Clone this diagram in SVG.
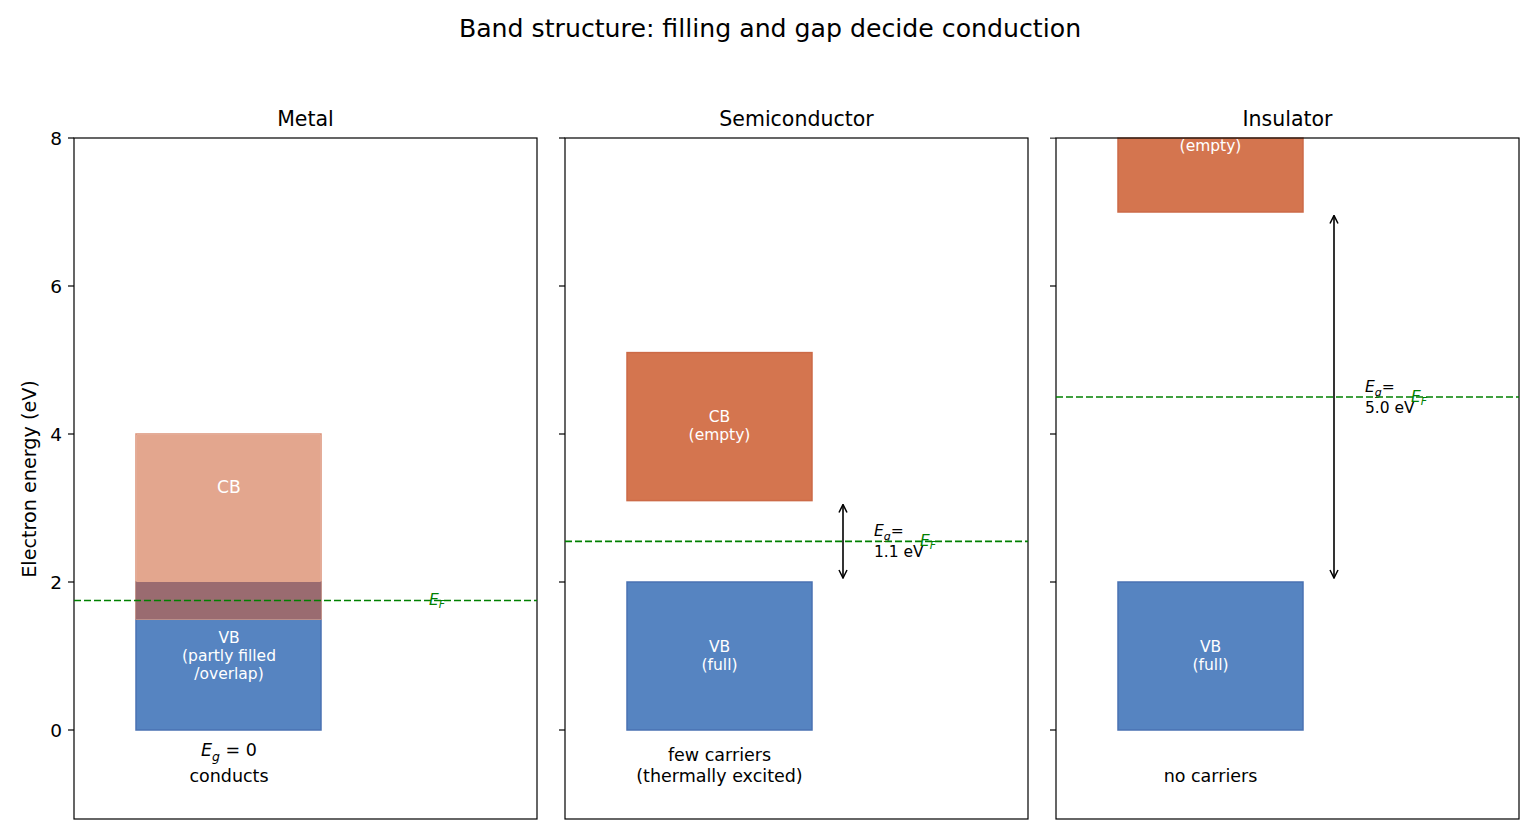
<svg xmlns="http://www.w3.org/2000/svg" width="1540" height="840" viewBox="0 0 1540 840">
<defs>
<style>
text{font-family:"DejaVu Sans","Liberation Sans",sans-serif;fill:#000}
.title{font-size:25.2px;text-anchor:middle}
.ptitle{font-size:20.5px;text-anchor:middle}
.tick{font-size:18.5px;text-anchor:end}
.ylab{font-size:19.2px;text-anchor:middle}
.note{font-size:17.5px;text-anchor:middle}
.band{font-size:15.5px;text-anchor:middle;fill:#ffffff}
.bandl{font-size:17.2px}
.eg{font-size:15.5px}
.ef{font-size:15.5px;fill:#008000;font-style:italic}
.frame{fill:none;stroke:#000;stroke-width:1.2}
.tk{stroke:#000;stroke-width:1.2}
.fermi{stroke:#008000;stroke-width:1.7;stroke-dasharray:7,3;fill:none}
.cb{fill:#d4754f;stroke:#cc6a47;stroke-width:1.5}
.vb{fill:#5684c1;stroke:#4a72b2;stroke-width:1.5}
.arr{stroke:#000;stroke-width:1.6;fill:none}
</style>
<marker id="ah" viewBox="0 0 10 10" refX="9" refY="5" markerWidth="10" markerHeight="10" markerUnits="userSpaceOnUse" orient="auto-start-reverse">
<path d="M1,1 L9,5 L1,9" fill="none" stroke="#000" stroke-width="1.5"/>
</marker>
</defs>
<rect width="1540" height="840" fill="#ffffff"/>
<text class="title" x="770" y="37">Band structure: filling and gap decide conduction</text>

<g id="axes-metal">
<text class="ptitle" x="305.5" y="126">Metal</text>
<text class="ylab" transform="translate(36,479) rotate(-90)">Electron energy (eV)</text>
<g class="tk"><line x1="68" y1="138" x2="74" y2="138"/><line x1="68" y1="286" x2="74" y2="286"/><line x1="68" y1="434" x2="74" y2="434"/><line x1="68" y1="582" x2="74" y2="582"/><line x1="68" y1="730" x2="74" y2="730"/></g>
<text class="tick" x="62" y="144.5">8</text>
<text class="tick" x="62" y="292.5">6</text>
<text class="tick" x="62" y="440.5">4</text>
<text class="tick" x="62" y="588.5">2</text>
<text class="tick" x="62" y="736.5">0</text>
</g>
<g id="metal-vb">
<rect x="136" y="582" width="185" height="148" class="vb"/>
</g>
<g id="metal-cb"><rect x="136" y="434" width="185" height="185" fill="none" stroke="#dc9278" stroke-width="1.5"/><rect x="136.75" y="434.75" width="183.5" height="147.25" fill="#e3a68e"/>
<rect x="136" y="582" width="185" height="37" fill="#9a6b70"/>
<text class="band bandl" x="229" y="493">CB</text></g>
<g id="metal-vb-label"><text class="band" x="229" y="643">VB</text><text class="band" x="229" y="661">(partly filled</text><text class="band" x="229" y="679">/overlap)</text></g>
<g id="metal-notes"><text class="note" x="229" y="756"><tspan font-style="italic">E</tspan><tspan font-style="italic" font-size="12.5px" dy="5">g</tspan><tspan dy="-5"> = 0</tspan></text><text class="note" x="229" y="782">conducts</text></g>
<rect class="frame" x="74" y="138" width="463" height="681"/>

<g id="axes-semi">
<text class="ptitle" x="796.5" y="126">Semiconductor</text>
<g class="tk"><line x1="559" y1="138" x2="565" y2="138"/><line x1="559" y1="286" x2="565" y2="286"/><line x1="559" y1="434" x2="565" y2="434"/><line x1="559" y1="582" x2="565" y2="582"/><line x1="559" y1="730" x2="565" y2="730"/></g>
</g>
<g id="semi-cb"><rect x="627" y="352.6" width="185" height="148" class="cb"/><text class="band" x="719.5" y="422">CB</text><text class="band" x="719.5" y="440">(empty)</text></g>
<g id="semi-vb"><rect x="627" y="582" width="185" height="148" class="vb"/><text class="band" x="719.5" y="652">VB</text><text class="band" x="719.5" y="670">(full)</text></g>
<g id="semi-notes"><text class="note" x="719.5" y="761">few carriers</text><text class="note" x="719.5" y="782">(thermally excited)</text>
<text class="eg" x="874" y="536"><tspan font-style="italic">E</tspan><tspan font-style="italic" font-size="11px" dy="4">g</tspan><tspan dy="-4">=</tspan></text><text class="eg" x="874" y="557">1.1 eV</text></g>
<rect class="frame" x="565" y="138" width="463" height="681"/>

<g id="axes-ins">
<g class="tk"><line x1="1050" y1="138" x2="1056" y2="138"/><line x1="1050" y1="286" x2="1056" y2="286"/><line x1="1050" y1="434" x2="1056" y2="434"/><line x1="1050" y1="582" x2="1056" y2="582"/><line x1="1050" y1="730" x2="1056" y2="730"/></g>
</g>
<g id="ins-cb"><rect x="1118" y="130" width="185" height="82" class="cb"/><text class="band" x="1210.5" y="151">(empty)</text></g>
<g id="ins-vb"><rect x="1118" y="582" width="185" height="148" class="vb"/><text class="band" x="1210.5" y="652">VB</text><text class="band" x="1210.5" y="670">(full)</text></g>
<g id="ins-notes"><text class="note" x="1210.5" y="782">no carriers</text>
<text class="eg" x="1365" y="392"><tspan font-style="italic">E</tspan><tspan font-style="italic" font-size="11px" dy="4">g</tspan><tspan dy="-4">=</tspan></text><text class="eg" x="1365" y="413">5.0 eV</text></g>
<rect x="1050" y="100" width="480" height="37.4" fill="#ffffff"/>
<text class="ptitle" x="1287.5" y="126">Insulator</text>
<rect class="frame" x="1056" y="138" width="463" height="681"/>

<g id="connectors">
<line class="fermi" x1="74" y1="600.5" x2="537" y2="600.5"/>
<line class="fermi" x1="565" y1="541.3" x2="1028" y2="541.3"/>
<line class="fermi" x1="1056" y1="397" x2="1519" y2="397"/>
<line class="arr" x1="843" y1="504.5" x2="843" y2="578" marker-start="url(#ah)" marker-end="url(#ah)"/>
<line class="arr" x1="1334" y1="215.5" x2="1334" y2="578" marker-start="url(#ah)" marker-end="url(#ah)"/>
</g>
<g id="fermi-labels">
<text class="ef" x="429" y="605">E<tspan font-size="11px" dy="3">F</tspan></text>
<text class="ef" x="920" y="546">E<tspan font-size="11px" dy="3">F</tspan></text>
<text class="ef" x="1411" y="402">E<tspan font-size="11px" dy="3">F</tspan></text>
</g>
</svg>
